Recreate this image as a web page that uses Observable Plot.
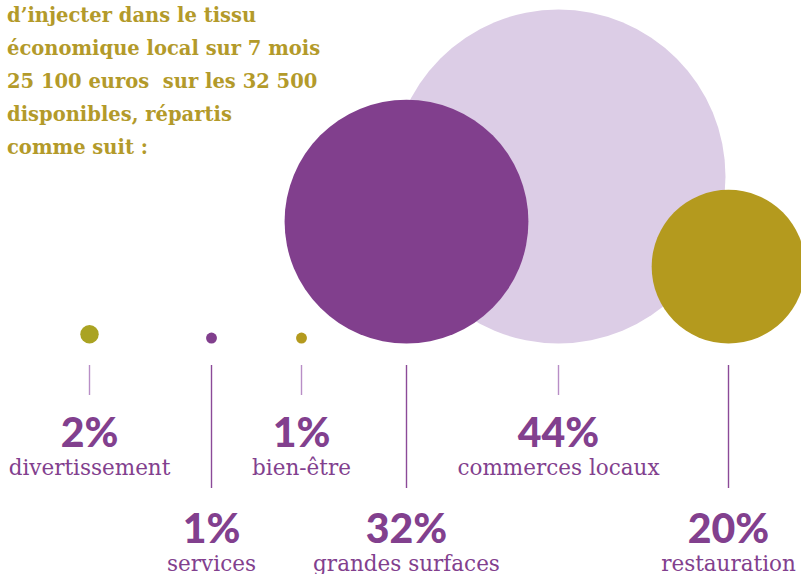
<!DOCTYPE html>
<html><head><meta charset="utf-8">
<script src="https://cdn.jsdelivr.net/npm/d3@7"></script>
<script src="https://cdn.jsdelivr.net/npm/@observablehq/plot@0.6"></script>
<style>
body{margin:0;background:#fff;}
#wrap{position:relative;width:801px;height:574px;overflow:hidden;}
#title{position:absolute;left:7px;top:-1px;font-family:"DejaVu Serif";font-weight:bold;font-size:19.5px;line-height:33px;color:#b39a2a;z-index:2;white-space:pre;}
</style></head><body>
<div id="wrap"><div id="title"></div></div>
<script>
// ---- data ----
const titleLines = ["d’injecter dans le tissu", "économique local sur 7 mois", "25 100 euros  sur les 32 500", "disponibles, répartis", "comme suit :"];
const categories = ["divertissement", "services", "bien-être", "grandes surfaces", "commerces locaux", "restauration"];
const percents = [2, 1, 1, 32, 44, 20];
const percentLabels = ["2%", "1%", "1%", "32%", "44%", "20%"];

// ---- layout / style ----
const slotX = [89, 211, 301, 406, 558, 728];
const fillColors = ["#aaa322", "#813f8d", "#b49a1e", "#813f8d", "#dccde6", "#b49a1e"];
const purple = "#82408e";

document.getElementById("title").textContent = titleLines.join("\n");

const rows = categories.map((c, i) => ({category: c, value: percents[i], label: percentLabels[i], row: i % 2}));
const upper = rows.filter(d => d.row === 0);
const lower = rows.filter(d => d.row === 1);

const pctFont = {fontFamily: "Lato", fontWeight: 900, fontSize: 41, fill: purple, frameAnchor: "top", lineAnchor: "bottom", letterSpacing: 2.5};
const lblFont = {fontFamily: "DejaVu Serif", fontSize: 21.5, fill: purple, frameAnchor: "top", lineAnchor: "bottom"};

const chart = Plot.plot({
  width: 801,
  height: 574,
  margin: 0,
  style: {background: "transparent", overflow: "visible"},
  x: {type: "ordinal", domain: categories, range: slotX, axis: null},
  y: {type: "linear", domain: [0, 44], range: [341.3, 176], axis: null},
  r: {type: "linear", domain: [0, 44], range: [1.7, 167]},
  color: {domain: categories, range: fillColors},
  marks: [
    Plot.dot(rows, {x: "category", y: "value", r: "value", fill: "category", stroke: "none"}),
    Plot.ruleX(upper, {x: "category", insetTop: 365, insetBottom: 574 - 395, stroke: "#b88ec6", strokeWidth: 1.4}),
    Plot.ruleX(lower, {x: "category", insetTop: 365, insetBottom: 574 - 488, stroke: "#8b4a98", strokeWidth: 1.4}),
    Plot.text(upper, {x: "category", text: "label", dy: 446, ...pctFont}),
    Plot.text(upper, {x: "category", text: "category", dy: 474, ...lblFont}),
    Plot.text(lower, {x: "category", text: "label", dy: 542, ...pctFont}),
    Plot.text(lower, {x: "category", text: "category", dy: 570, ...lblFont})
  ]
});
document.getElementById("wrap").appendChild(chart);
</script>
</body></html>
